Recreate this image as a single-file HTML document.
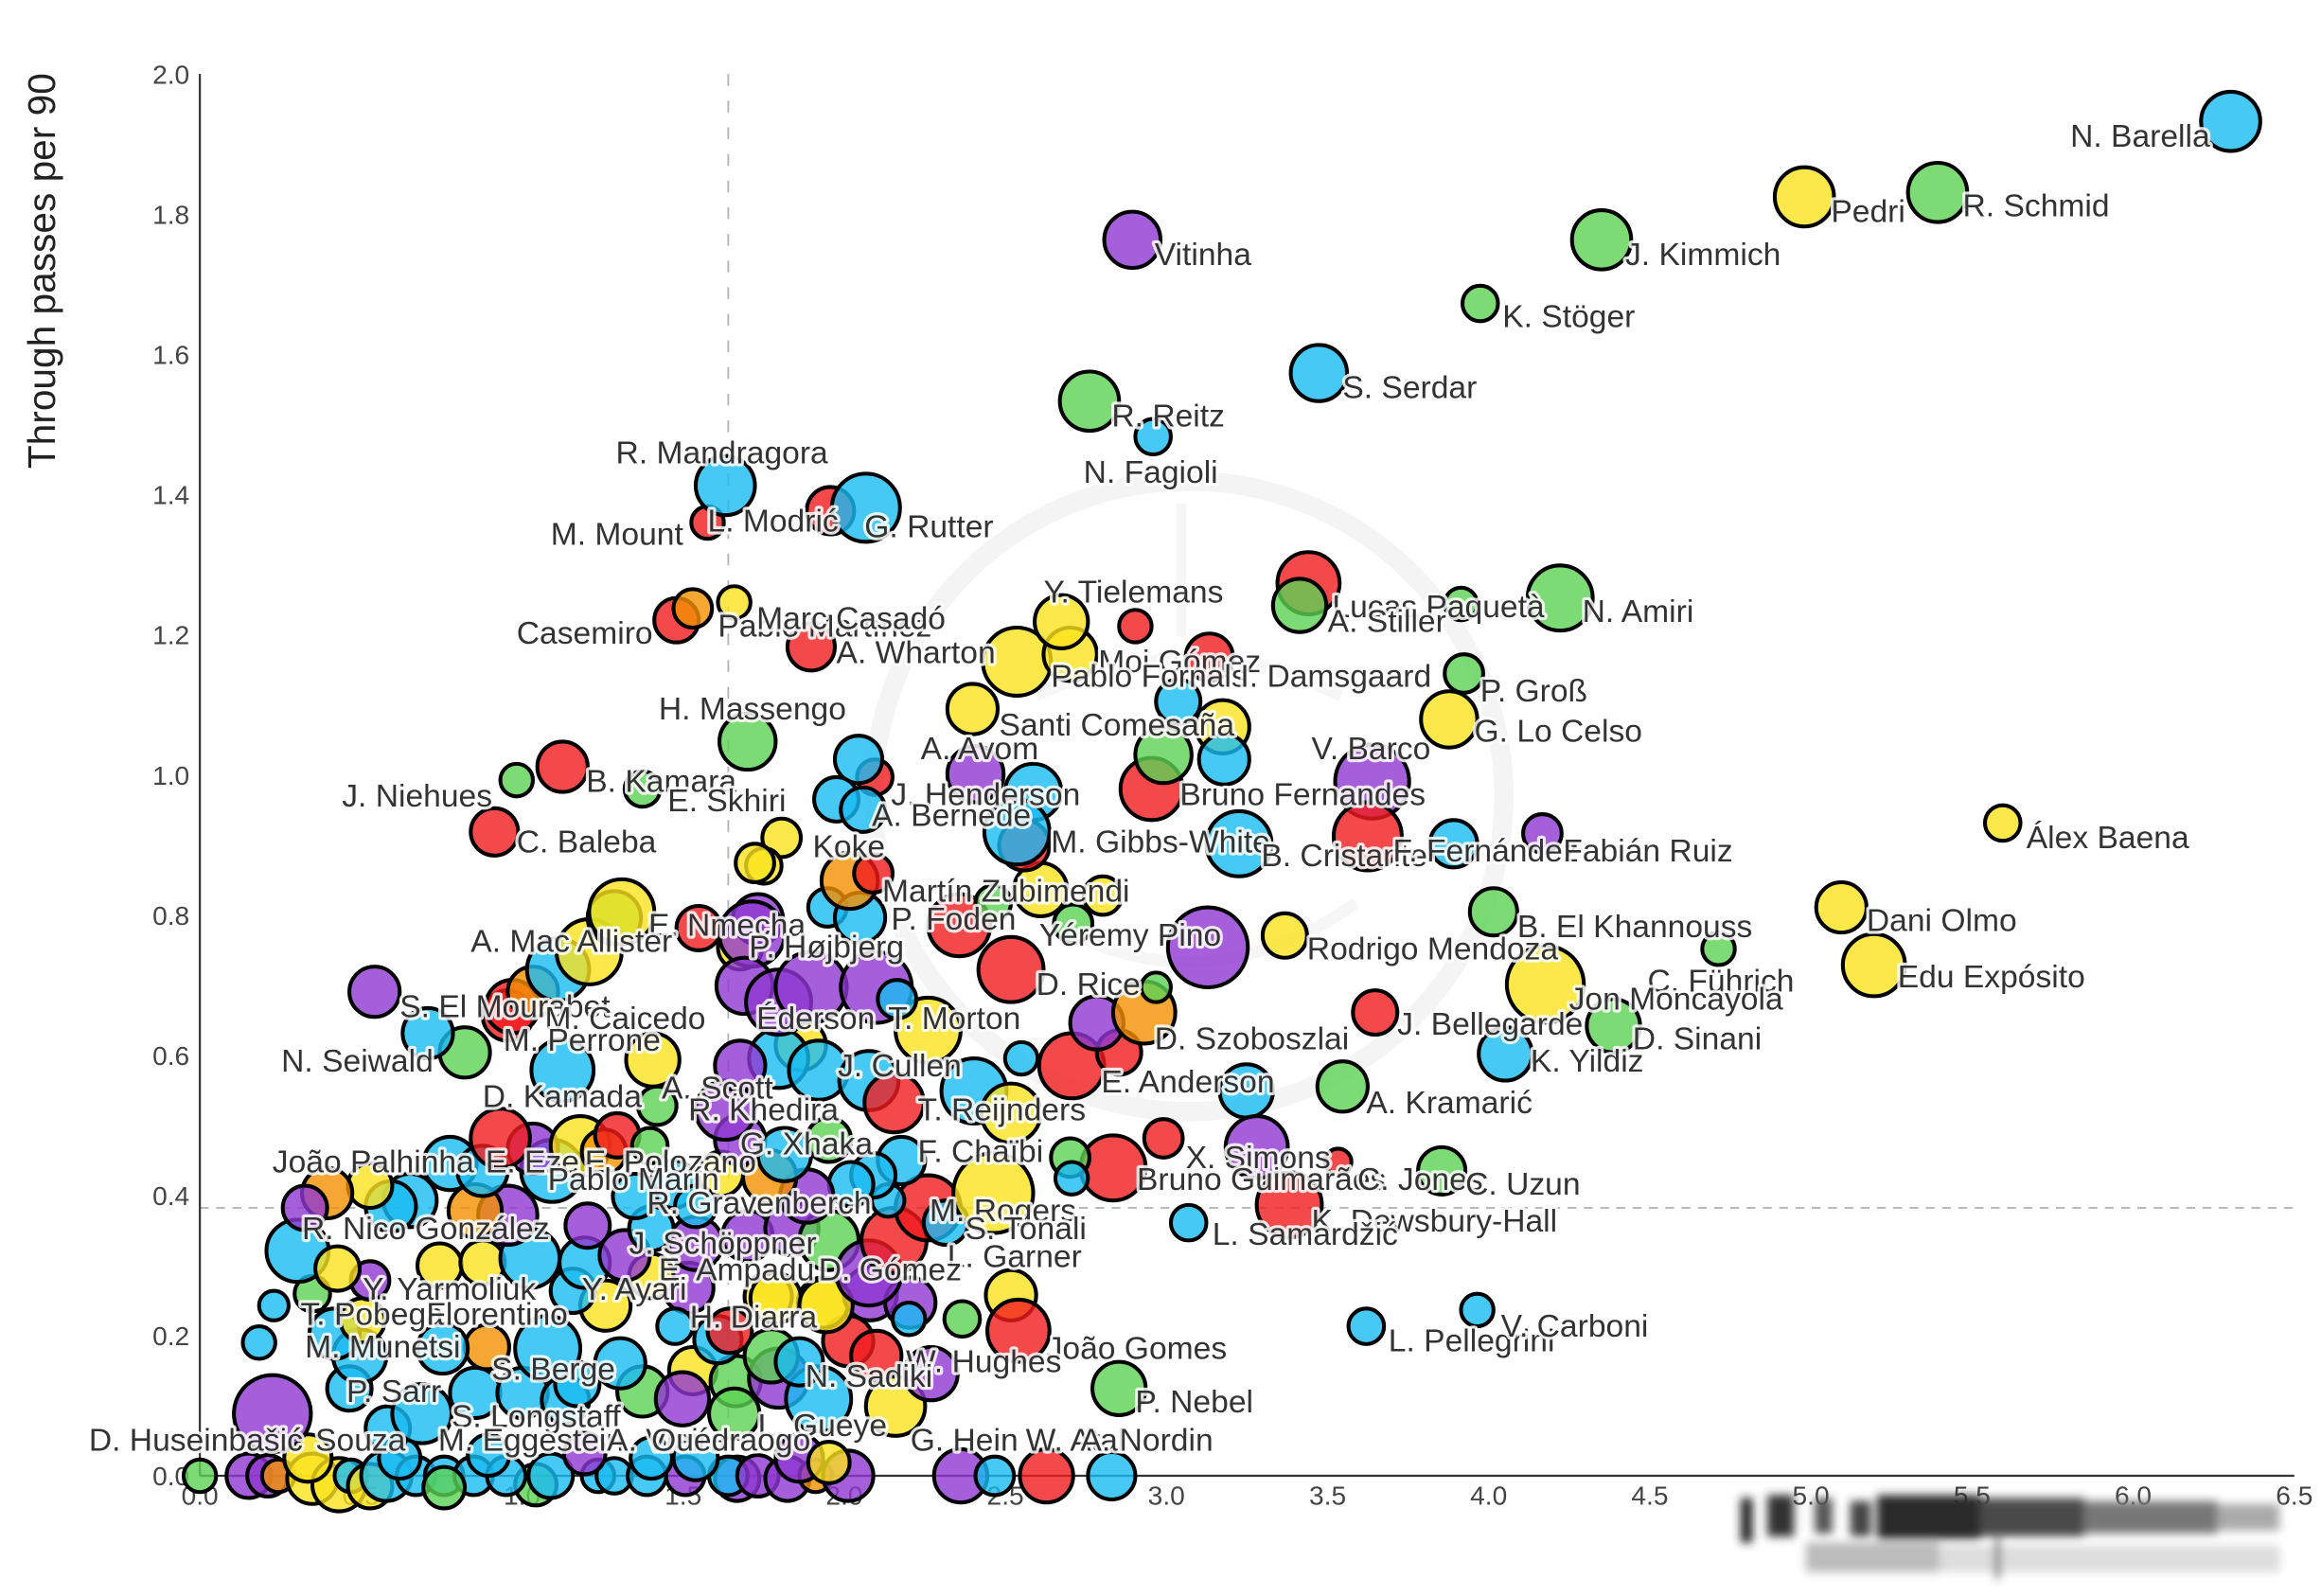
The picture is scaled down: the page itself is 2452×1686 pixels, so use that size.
<!DOCTYPE html>
<html><head><meta charset="utf-8"><style>
html,body{margin:0;padding:0;background:#fff;}
svg{display:block;}
circle{fill-opacity:.8;stroke:#000;stroke-width:2.6;}
.b{fill:#19bbf2}.y{fill:#fbe21d}.r{fill:#f11b1e}.g{fill:#5cd254}.p{fill:#9037d2}.o{fill:#f49000}
.lb text{font-family:"Liberation Sans","DejaVu Sans",sans-serif;font-size:21.5px;fill:#333;stroke:#fff;stroke-width:4;stroke-opacity:.85;paint-order:stroke;stroke-linejoin:round;}
.tk{font-family:"Liberation Sans","DejaVu Sans",sans-serif;font-size:18px;fill:#444;}
</style></head><body>
<svg width="2452" height="1686" viewBox="0 0 1568 1078.2" xmlns="http://www.w3.org/2000/svg">
<defs><filter id="bl" x="-20%" y="-50%" width="140%" height="200%"><feGaussianBlur stdDeviation="3"/></filter></defs>
<rect width="1568" height="1078.2" fill="#fff"/>
<!-- faint watermark -->
<g fill="none">
<circle cx="803" cy="538" r="213" style="fill:none;stroke:#f4f4f4;stroke-width:13;fill-opacity:0"/>
<path d="M700 470 Q803 420 906 470" stroke="#f6f6f6" stroke-width="8"/>
<path d="M798 340 L798 430" stroke="#f6f6f6" stroke-width="7"/>
<path d="M690 610 Q803 690 916 610" stroke="#f6f6f6" stroke-width="8"/>
</g>
<!-- axes -->
<line x1="492" y1="50" x2="492" y2="997" stroke="#b5b5b5" stroke-width="1.2" stroke-dasharray="8 10"/>
<line x1="135" y1="816" x2="1550" y2="816" stroke="#b5b5b5" stroke-width="1.2" stroke-dasharray="6 5"/>
<line x1="135" y1="50" x2="135" y2="997" stroke="#333" stroke-width="1.4"/>
<line x1="135" y1="997" x2="1550" y2="997" stroke="#333" stroke-width="1.4"/>
<g class="tk" text-anchor="end">
<text x="128" y="56.5">2.0</text><text x="128" y="151.2">1.8</text><text x="128" y="245.9">1.6</text><text x="128" y="340.6">1.4</text><text x="128" y="435.3">1.2</text><text x="128" y="530">1.0</text><text x="128" y="624.7">0.8</text><text x="128" y="719.4">0.6</text><text x="128" y="814.1">0.4</text><text x="128" y="908.8">0.2</text><text x="128" y="1003.5">0.0</text>
</g>
<g class="tk" text-anchor="middle">
<text x="135" y="1016.5">0.0</text><text x="243.8" y="1016.5">0.5</text><text x="352.7" y="1016.5">1.0</text><text x="461.5" y="1016.5">1.5</text><text x="570.4" y="1016.5">2.0</text><text x="679.2" y="1016.5">2.5</text><text x="788" y="1016.5">3.0</text><text x="896.9" y="1016.5">3.5</text><text x="1005.7" y="1016.5">4.0</text><text x="1114.6" y="1016.5">4.5</text><text x="1223.4" y="1016.5">5.0</text><text x="1332.3" y="1016.5">5.5</text><text x="1441.1" y="1016.5">6.0</text><text x="1550" y="1016.5">6.5</text>
</g>
<text transform="translate(37,183) rotate(-90)" text-anchor="middle" style="font-family:'Liberation Sans','DejaVu Sans',sans-serif;font-size:26px;fill:#222;">Through passes per 90</text>
<!-- blurred logo bottom right -->
<g filter="url(#bl)">
<rect x="1176" y="1012" width="8" height="30" fill="#222"/>
<rect x="1194" y="1010" width="18" height="28" fill="#333"/>
<rect x="1226" y="1012" width="12" height="24" fill="#555"/>
<rect x="1250" y="1014" width="14" height="24" fill="#444"/>
<rect x="1268" y="1010" width="70" height="30" fill="#2a2a2a"/>
<rect x="1338" y="1012" width="70" height="26" fill="#4a4a4a"/>
<rect x="1408" y="1014" width="90" height="22" fill="#777"/>
<rect x="1498" y="1016" width="42" height="18" fill="#aaa"/>
<rect x="1220" y="1042" width="90" height="20" fill="#bbb"/>
<rect x="1310" y="1044" width="230" height="18" fill="#ddd"/>
<rect x="1348" y="1040" width="3" height="26" fill="#333"/>
</g>
<!-- bubbles -->
<g>
<circle class="g" cx="135" cy="997" r="11"/><circle class="p" cx="168" cy="997" r="15"/><circle class="p" cx="181" cy="997" r="14"/><circle class="o" cx="188" cy="997" r="11"/><circle class="y" cx="211" cy="999" r="17"/><circle class="y" cx="229" cy="1003" r="18"/><circle class="b" cx="237" cy="997" r="11"/><circle class="y" cx="250" cy="1004" r="15"/><circle class="b" cx="261" cy="997" r="17"/><circle class="b" cx="281" cy="997" r="13"/><circle class="b" cx="300" cy="997" r="13"/><circle class="g" cx="362" cy="1003" r="14"/><circle class="b" cx="320" cy="997" r="13"/><circle class="b" cx="342" cy="997" r="13"/><circle class="b" cx="372" cy="997" r="15"/><circle class="b" cx="404" cy="997" r="11"/><circle class="b" cx="415" cy="997" r="12"/><circle class="b" cx="437" cy="997" r="13"/><circle class="p" cx="463" cy="997" r="13"/><circle class="p" cx="498" cy="999" r="15"/><circle class="b" cx="492" cy="997" r="13"/><circle class="p" cx="512" cy="997" r="14"/><circle class="p" cx="532" cy="999" r="15"/><circle class="o" cx="551" cy="997" r="11"/><circle class="p" cx="573" cy="997" r="17"/><circle class="p" cx="649" cy="997" r="18"/><circle class="b" cx="672" cy="997" r="13"/><circle class="r" cx="707" cy="997" r="18"/><circle class="b" cx="751" cy="997" r="16"/>
<circle class="y" cx="208" cy="985" r="16"/><circle class="b" cx="270" cy="985" r="14"/><circle class="b" cx="330" cy="983" r="14"/><circle class="p" cx="395" cy="982" r="14"/><circle class="b" cx="440" cy="985" r="14"/><circle class="b" cx="470" cy="985" r="15"/><circle class="p" cx="540" cy="985" r="16"/><circle class="y" cx="560" cy="988" r="14"/><circle class="g" cx="300" cy="1005" r="14"/>
<circle class="p" cx="184" cy="955" r="26"/><circle class="b" cx="175" cy="907" r="11"/><circle class="b" cx="185" cy="882" r="10"/><circle class="b" cx="262" cy="965" r="15"/><circle class="b" cx="236" cy="938" r="15"/><circle class="b" cx="285" cy="955" r="20"/><circle class="b" cx="321" cy="941" r="17"/><circle class="b" cx="353" cy="941" r="17"/><circle class="b" cx="382" cy="946" r="16"/><circle class="b" cx="390" cy="935" r="15"/><circle class="g" cx="434" cy="940" r="17"/><circle class="y" cx="468" cy="926" r="16"/><circle class="p" cx="461" cy="945" r="18"/><circle class="g" cx="497" cy="933" r="17"/><circle class="g" cx="496" cy="955" r="17"/><circle class="p" cx="526" cy="931" r="20"/><circle class="b" cx="553" cy="945" r="22"/><circle class="y" cx="605" cy="950" r="20"/><circle class="p" cx="629" cy="928" r="18"/><circle class="g" cx="521" cy="916" r="18"/><circle class="b" cx="540" cy="920" r="16"/><circle class="b" cx="485" cy="905" r="16"/><circle class="r" cx="493" cy="899" r="15"/><circle class="r" cx="573" cy="906" r="17"/><circle class="r" cx="592" cy="916" r="17"/><circle class="y" cx="519" cy="876" r="16"/><circle class="y" cx="556" cy="880" r="17"/><circle class="p" cx="588" cy="874" r="18"/><circle class="p" cx="615" cy="880" r="17"/><circle class="b" cx="614" cy="891" r="11"/><circle class="g" cx="650" cy="891" r="12"/><circle class="y" cx="683" cy="875" r="17"/><circle class="r" cx="688" cy="899" r="21"/><circle class="y" cx="524" cy="877" r="17"/><circle class="y" cx="558" cy="882" r="18"/><circle class="p" cx="465" cy="870" r="17"/><circle class="y" cx="440" cy="862" r="15"/><circle class="y" cx="409" cy="882" r="17"/><circle class="b" cx="419" cy="921" r="17"/><circle class="b" cx="370" cy="911" r="22"/><circle class="o" cx="329" cy="910" r="15"/><circle class="b" cx="299" cy="911" r="17"/><circle class="b" cx="243" cy="916" r="18"/><circle class="b" cx="226" cy="901" r="17"/><circle class="y" cx="245" cy="892" r="15"/><circle class="p" cx="250" cy="865" r="13"/><circle class="g" cx="211" cy="874" r="12"/><circle class="b" cx="456" cy="896" r="12"/><circle class="b" cx="387" cy="872" r="15"/><circle class="b" cx="201" cy="845" r="21"/><circle class="y" cx="228" cy="857" r="15"/><circle class="y" cx="297" cy="855" r="15"/><circle class="y" cx="326" cy="853" r="15"/><circle class="b" cx="358" cy="850" r="20"/><circle class="b" cx="395" cy="853" r="17"/><circle class="p" cx="422" cy="848" r="17"/><circle class="p" cx="470" cy="840" r="18"/><circle class="p" cx="505" cy="835" r="17"/><circle class="p" cx="535" cy="830" r="18"/><circle class="g" cx="560" cy="838" r="20"/><circle class="p" cx="587" cy="860" r="22"/><circle class="r" cx="604" cy="838" r="22"/><circle class="r" cx="627" cy="816" r="22"/><circle class="b" cx="639" cy="826" r="15"/><circle class="y" cx="671" cy="806" r="27"/><circle class="b" cx="600" cy="811" r="11"/><circle class="b" cx="609" cy="784" r="16"/><circle class="b" cx="590" cy="794" r="15"/><circle class="b" cx="575" cy="800" r="15"/><circle class="p" cx="545" cy="808" r="18"/><circle class="o" cx="520" cy="795" r="18"/><circle class="y" cx="487" cy="793" r="15"/><circle class="b" cx="455" cy="800" r="16"/><circle class="b" cx="470" cy="815" r="14"/><circle class="b" cx="440" cy="830" r="15"/><circle class="p" cx="397" cy="828" r="15"/><circle class="b" cx="429" cy="808" r="15"/><circle class="p" cx="343" cy="821" r="20"/><circle class="o" cx="321" cy="818" r="18"/><circle class="b" cx="277" cy="811" r="18"/><circle class="b" cx="264" cy="815" r="17"/><circle class="y" cx="250" cy="801" r="15"/><circle class="o" cx="221" cy="806" r="17"/><circle class="p" cx="206" cy="816" r="15"/><circle class="b" cx="304" cy="786" r="18"/><circle class="b" cx="326" cy="791" r="17"/><circle class="b" cx="373" cy="791" r="21"/><circle class="p" cx="360" cy="776" r="17"/><circle class="r" cx="338" cy="769" r="20"/><circle class="y" cx="392" cy="774" r="20"/><circle class="o" cx="408" cy="778" r="15"/><circle class="r" cx="417" cy="767" r="15"/><circle class="g" cx="439" cy="774" r="12"/><circle class="p" cx="500" cy="770" r="17"/><circle class="b" cx="530" cy="780" r="18"/><circle class="g" cx="560" cy="770" r="15"/><circle class="y" cx="541" cy="706" r="17"/><circle class="b" cx="526" cy="715" r="20"/><circle class="b" cx="553" cy="723" r="20"/><circle class="b" cx="587" cy="730" r="20"/><circle class="r" cx="604" cy="745" r="20"/><circle class="y" cx="627" cy="696" r="22"/><circle class="b" cx="658" cy="737" r="22"/><circle class="y" cx="683" cy="752" r="20"/><circle class="p" cx="490" cy="750" r="20"/><circle class="g" cx="444" cy="747" r="13"/><circle class="p" cx="500" cy="720" r="17"/><circle class="y" cx="441" cy="716" r="18"/><circle class="b" cx="380" cy="723" r="21"/><circle class="g" cx="314" cy="711" r="17"/><circle class="b" cx="289" cy="698" r="17"/><circle class="r" cx="343" cy="686" r="17"/><circle class="p" cx="253" cy="670" r="17"/><circle class="r" cx="346" cy="680" r="18"/><circle class="o" cx="360" cy="670" r="17"/><circle class="b" cx="377" cy="655" r="21"/><circle class="y" cx="398" cy="643" r="22"/><circle class="g" cx="415" cy="620" r="18"/><circle class="y" cx="420" cy="616" r="22"/><circle class="r" cx="472" cy="627" r="15"/><circle class="y" cx="500" cy="640" r="15"/><circle class="p" cx="512" cy="621" r="17"/><circle class="p" cx="508" cy="631" r="22"/><circle class="p" cx="503" cy="666" r="19"/><circle class="p" cx="526" cy="677" r="22"/><circle class="p" cx="548" cy="667" r="24"/><circle class="p" cx="592" cy="667" r="24"/><circle class="b" cx="606" cy="675" r="13"/><circle class="b" cx="559" cy="613" r="13"/><circle class="b" cx="581" cy="620" r="17"/><circle class="o" cx="574" cy="595" r="19"/><circle class="r" cx="590" cy="590" r="13"/><circle class="y" cx="528" cy="566" r="13"/><circle class="y" cx="516" cy="585" r="12"/><circle class="r" cx="648" cy="625" r="21"/><circle class="g" cx="671" cy="610" r="12"/><circle class="g" cx="725" cy="624" r="13"/><circle class="y" cx="703" cy="601" r="18"/><circle class="y" cx="745" cy="605" r="13"/><circle class="r" cx="683" cy="655" r="22"/><circle class="p" cx="816" cy="640" r="27"/><circle class="y" cx="868" cy="632" r="15"/><circle class="r" cx="724" cy="720" r="22"/><circle class="r" cx="756" cy="711" r="15"/><circle class="b" cx="690" cy="715" r="11"/><circle class="p" cx="741" cy="691" r="18"/><circle class="o" cx="773" cy="684" r="21"/><circle class="g" cx="781" cy="667" r="10"/><circle class="b" cx="842" cy="737" r="18"/><circle class="p" cx="849" cy="775" r="21"/><circle class="r" cx="786" cy="769" r="13"/><circle class="r" cx="752" cy="789" r="22"/><circle class="g" cx="723" cy="782" r="13"/><circle class="b" cx="724" cy="796" r="11"/><circle class="r" cx="904" cy="785" r="9"/><circle class="r" cx="871" cy="814" r="22"/><circle class="b" cx="803" cy="826" r="12"/><circle class="g" cx="907" cy="734" r="17"/><circle class="g" cx="974" cy="791" r="16"/><circle class="b" cx="923" cy="896" r="12"/><circle class="b" cx="998" cy="885" r="11"/><circle class="g" cx="756" cy="938" r="18"/>
<circle class="g" cx="505" cy="501" r="19"/><circle class="r" cx="380" cy="518" r="17"/><circle class="g" cx="349" cy="527" r="11"/><circle class="g" cx="434" cy="533" r="12"/><circle class="r" cx="334" cy="562" r="16"/><circle class="y" cx="510" cy="583" r="13"/><circle class="p" cx="659" cy="523" r="19"/><circle class="r" cx="591" cy="525" r="12"/><circle class="b" cx="580" cy="513" r="16"/><circle class="b" cx="565" cy="540" r="15"/><circle class="b" cx="583" cy="547" r="15"/><circle class="r" cx="692" cy="571" r="17"/><circle class="b" cx="698" cy="535" r="19"/><circle class="b" cx="687" cy="562" r="22"/><circle class="y" cx="657" cy="479" r="17"/><circle class="b" cx="796" cy="474" r="15"/><circle class="y" cx="826" cy="491" r="18"/><circle class="r" cx="778" cy="533" r="21"/><circle class="g" cx="786" cy="510" r="19"/><circle class="b" cx="827" cy="513" r="17"/><circle class="b" cx="837" cy="570" r="22"/><circle class="r" cx="548" cy="437" r="16"/><circle class="r" cx="817" cy="444" r="16"/><circle class="y" cx="687" cy="447" r="23"/><circle class="y" cx="723" cy="442" r="18"/><circle class="y" cx="717" cy="420" r="18"/><circle class="r" cx="767" cy="423" r="11"/><circle class="r" cx="457" cy="419" r="15"/><circle class="o" cx="468" cy="411" r="13"/><circle class="y" cx="496" cy="407" r="11"/><circle class="r" cx="478" cy="353" r="11"/><circle class="b" cx="490" cy="328" r="20"/><circle class="r" cx="561" cy="345" r="16"/><circle class="b" cx="585" cy="343" r="23"/><circle class="g" cx="736" cy="271" r="20"/><circle class="b" cx="779" cy="295" r="12"/><circle class="b" cx="891" cy="252" r="19"/><circle class="p" cx="765" cy="162" r="19"/><circle class="r" cx="884" cy="394" r="21"/><circle class="g" cx="878" cy="409" r="18"/><circle class="g" cx="987" cy="408" r="11"/><circle class="g" cx="1054" cy="404" r="22"/><circle class="g" cx="989" cy="455" r="13"/><circle class="y" cx="979" cy="486" r="19"/><circle class="p" cx="927" cy="528" r="25"/><circle class="r" cx="924" cy="565" r="23"/><circle class="b" cx="982" cy="570" r="16"/><circle class="p" cx="1042" cy="563" r="13"/><circle class="g" cx="1009" cy="616" r="16"/><circle class="g" cx="1161" cy="641" r="11"/><circle class="y" cx="1044" cy="665" r="26"/><circle class="r" cx="929" cy="684" r="15"/><circle class="g" cx="1090" cy="693" r="18"/><circle class="b" cx="1017" cy="712" r="18"/><circle class="y" cx="1353" cy="556" r="12"/><circle class="y" cx="1244" cy="613" r="17"/><circle class="y" cx="1266" cy="652" r="21"/><circle class="g" cx="1000" cy="205" r="12"/><circle class="g" cx="1082" cy="162" r="20"/><circle class="y" cx="1219" cy="133" r="20"/><circle class="g" cx="1309" cy="130" r="20"/><circle class="b" cx="1507" cy="82" r="20"/>
</g>
<!-- labels -->
<g class="lb">
<text x="1493" y="99" text-anchor="end">N. Barella</text>
<text x="1237" y="150">Pedri</text>
<text x="1326" y="146">R. Schmid</text>
<text x="1098" y="179">J. Kimmich</text>
<text x="780" y="179">Vitinha</text>
<text x="1015" y="221">K. Stöger</text>
<text x="907" y="269">S. Serdar</text>
<text x="751" y="288">R. Reitz</text>
<text x="732" y="326">N. Fagioli</text>
<text x="416" y="313">R. Mandragora</text>
<text x="372" y="368">M. Mount</text>
<text x="478" y="359">L. Modrić</text>
<text x="584" y="363">G. Rutter</text>
<text x="349" y="435">Casemiro</text>
<text x="485" y="430">Pablo Martínez</text>
<text x="511" y="425">Marc Casadó</text>
<text x="565" y="448">A. Wharton</text>
<text x="705" y="407">Y. Tielemans</text>
<text x="900" y="417">Lucas Paquetà</text>
<text x="897" y="427">A. Stiller</text>
<text x="1069" y="420">N. Amiri</text>
<text x="1000" y="474">P. Groß</text>
<text x="996" y="501">G. Lo Celso</text>
<text x="742" y="454">Moi Gómez</text>
<text x="710" y="464">Pablo Fornals</text>
<text x="838" y="464">I. Damsgaard</text>
<text x="445" y="486">H. Massengo</text>
<text x="675" y="497">Santi Comesaña</text>
<text x="622" y="513">A. Avom</text>
<text x="886" y="513">V. Barco</text>
<text x="797" y="544">Bruno Fernandes</text>
<text x="602" y="544">J. Henderson</text>
<text x="589" y="558">A. Bernede</text>
<text x="710" y="576">M. Gibbs-White</text>
<text x="852" y="585">B. Cristante</text>
<text x="941" y="582">F. Fernández</text>
<text x="1056" y="582">Fabián Ruiz</text>
<text x="231" y="545">J. Niehues</text>
<text x="396" y="535">B. Kamara</text>
<text x="451" y="548">E. Skhiri</text>
<text x="349" y="576">C. Baleba</text>
<text x="549" y="579">Koke</text>
<text x="596" y="609">Martín Zubimendi</text>
<text x="1369" y="573">Álex Baena</text>
<text x="1261" y="629">Dani Olmo</text>
<text x="1282" y="667">Edu Expósito</text>
<text x="1025" y="633">B. El Khannouss</text>
<text x="1113" y="670">C. Führich</text>
<text x="1060" y="682">Jon Moncayola</text>
<text x="1103" y="709">D. Sinani</text>
<text x="944" y="699">J. Bellegarde</text>
<text x="1034" y="724">K. Yildiz</text>
<text x="883" y="648">Rodrigo Mendoza</text>
<text x="702" y="639">Yéremy Pino</text>
<text x="602" y="628">P. Foden</text>
<text x="438" y="632">E. Nmecha</text>
<text x="506" y="647">P. Højbjerg</text>
<text x="318" y="643">A. Mac Allister</text>
<text x="700" y="672">D. Rice</text>
<text x="270" y="687">S. El Mourabet</text>
<text x="368" y="695">M. Caicedo</text>
<text x="511" y="695">Éderson</text>
<text x="600" y="695">T. Morton</text>
<text x="780" y="709">D. Szoboszlai</text>
<text x="340" y="710">M. Perrone</text>
<text x="190" y="724">N. Seiwald</text>
<text x="566" y="727">J. Cullen</text>
<text x="744" y="738">E. Anderson</text>
<text x="923" y="752">A. Kramarić</text>
<text x="326" y="748">D. Kamada</text>
<text x="447" y="742">A. Scott</text>
<text x="465" y="757">R. Khedira</text>
<text x="620" y="757">T. Reijnders</text>
<text x="500" y="780">G. Xhaka</text>
<text x="620" y="785">F. Chaïbi</text>
<text x="801" y="789">X. Simons</text>
<text x="768" y="804">Bruno Guimarães</text>
<text x="917" y="804">C. Jones</text>
<text x="990" y="807">C. Uzun</text>
<text x="184" y="792">João Palhinha</text>
<text x="328" y="792">E. Eze</text>
<text x="395" y="792">E. Polozano</text>
<text x="370" y="804">Pablo Marín</text>
<text x="437" y="820">R. Gravenberch</text>
<text x="204" y="837">R. Nico González</text>
<text x="425" y="847">J. Schöppner</text>
<text x="628" y="825">M. Rogers</text>
<text x="652" y="837">S. Tonali</text>
<text x="640" y="856">L. Garner</text>
<text x="886" y="832">K. Dewsbury-Hall</text>
<text x="819" y="841">L. Samardžić</text>
<text x="445" y="865">E. Ampadu</text>
<text x="553" y="865">D. Gómez</text>
<text x="245" y="878">Y. Yarmoliuk</text>
<text x="393" y="878">Y. Ayari</text>
<text x="203" y="895">T. Pobega</text>
<text x="288" y="895">Florentino</text>
<text x="466" y="897">H. Diarra</text>
<text x="206" y="917">M. Munetsi</text>
<text x="707" y="918">João Gomes</text>
<text x="938" y="913">L. Pellegrini</text>
<text x="1014" y="903">V. Carboni</text>
<text x="332" y="932">S. Berge</text>
<text x="612" y="927">W. Hughes</text>
<text x="544" y="937">N. Sadiki</text>
<text x="234" y="947">P. Sarr</text>
<text x="767" y="954">P. Nebel</text>
<text x="305" y="964">S. Longstaff</text>
<text x="512" y="970">L. Gueye</text>
<text x="60" y="980">D. Huseinbašić</text>
<text x="213" y="980">Souza</text>
<text x="296" y="980">M. Eggestein</text>
<text x="410" y="980">A. Vieira</text>
<text x="440" y="980">Ouédraogo</text>
<text x="615" y="980">G. Hein</text>
<text x="693" y="980">W. Atal</text>
<text x="730" y="980">A. Nordin</text>
</g>
</svg>
</body></html>
